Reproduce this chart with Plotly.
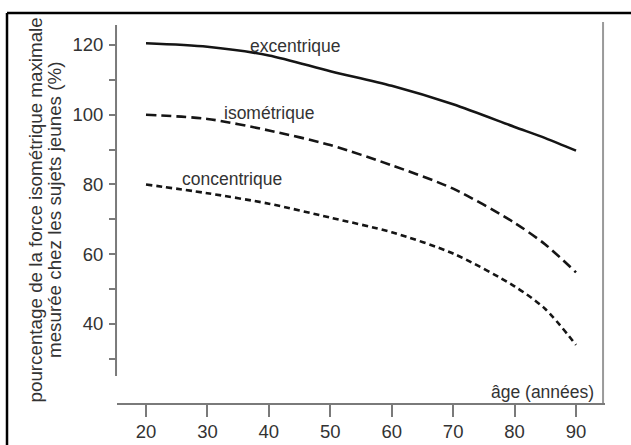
import plotly.graph_objects as go

# Data
ages = [20, 30, 40, 50, 60, 70, 80, 85, 90]
excentrique = [120.5, 119.5, 117.0, 112.5, 108.3, 103.0, 96.5, 93.3, 89.7]
isometrique = [100.0, 98.8, 95.5, 91.3, 85.5, 78.8, 69.0, 62.8, 54.8]
concentrique = [80.0, 77.5, 74.5, 70.5, 66.3, 60.2, 50.8, 44.3, 34.0]

x_ticks = [20, 30, 40, 50, 60, 70, 80, 90]
y_ticks = [30, 40, 50, 60, 70, 80, 90, 100, 110, 120]
y_ticktext = ["", "40", "", "60", "", "80", "", "100", "", "120"]

curve_labels = ["excentrique", "isométrique", "concentrique"]
label_x = [36.6, 32.3, 25.5]
label_y = [119.6, 100.5, 81.7]

y_title_lines = ["pourcentage de la force isométrique maximale",
                 "mesurée chez les sujets jeunes (%)"]
x_title = "âge (années)"

FONT = "Liberation Sans, Arial, Helvetica, sans-serif"
TXT = "#333333"
AX = "#7a7a7a"

fig = go.Figure()
series = [
    (excentrique, "solid"),
    (isometrique, "10px,5px"),
    (concentrique, "6px,4px"),
]
for vals, dash in series:
    fig.add_trace(go.Scatter(
        x=ages, y=vals, mode="lines",
        line=dict(color="#151515", width=2.6, dash=dash, shape="spline", smoothing=0.8),
        showlegend=False, hoverinfo="skip",
    ))

for t, lx, ly in zip(curve_labels, label_x, label_y):
    fig.add_annotation(x=lx, y=ly, text=t, showarrow=False, xanchor="left", yanchor="middle",
                       font=dict(family=FONT, size=17.5, color=TXT))

for line, px in zip(y_title_lines, [-0.167, -0.127]):
    fig.add_annotation(xref="paper", yref="paper", x=px, y=0.5106, text=line,
                       textangle=-90, showarrow=False, xanchor="center", yanchor="middle",
                       font=dict(family=FONT, size=18.8, color=TXT))
fig.add_annotation(xref="paper", yref="paper", x=0.982, y=0.029, text=x_title,
                   showarrow=False, xanchor="right", yanchor="middle",
                   font=dict(family=FONT, size=17.5, color=TXT))

# y axis line (stops short of the x axis) and right frame line
fig.add_shape(type="line", xref="paper", yref="y", x0=-0.002, x1=-0.002, y0=25.1, y1=125.7,
              line=dict(color=AX, width=2))
fig.add_shape(type="line", xref="paper", yref="paper", x0=0.996, x1=0.996, y0=0, y1=1.008,
              line=dict(color="#9a9a9a", width=2))
# outer black frame (left and top edges visible)
fig.add_shape(type="line", xref="paper", yref="paper", x0=-0.2254, x1=-0.2254, y0=-0.2, y1=1.0317,
              line=dict(color="black", width=2.5))
fig.add_shape(type="line", xref="paper", yref="paper", x0=-0.2254, x1=1.1, y0=1.0317, y1=1.0317,
              line=dict(color="black", width=2.5))

fig.update_layout(
    width=631, height=445,
    margin=dict(l=117, r=26, t=25, b=42, autoexpand=False),
    paper_bgcolor="white", plot_bgcolor="white",
    font=dict(family=FONT, size=18.5, color=TXT),
    xaxis=dict(range=[15.28, 94.72], tickmode="array", tickvals=x_ticks,
               showgrid=False, zeroline=False, showline=True, linecolor=AX, linewidth=2,
               ticks="outside", ticklen=12, tickwidth=1.5, tickcolor=AX,
               ticklabelstandoff=-1, automargin=False,
               tickfont=dict(family=FONT, size=18.5, color=TXT)),
    yaxis=dict(range=[17.35, 125.73], tickmode="array", tickvals=y_ticks, ticktext=y_ticktext,
               showgrid=False, zeroline=False, showline=False,
               ticks="outside", ticklen=7, tickwidth=1.5, tickcolor=AX,
               ticklabelstandoff=2, automargin=False,
               tickfont=dict(family=FONT, size=18.5, color=TXT)),
)

fig.write_html("out.html", config={"displayModeBar": False},
               post_script="document.body.style.margin='0px';")
